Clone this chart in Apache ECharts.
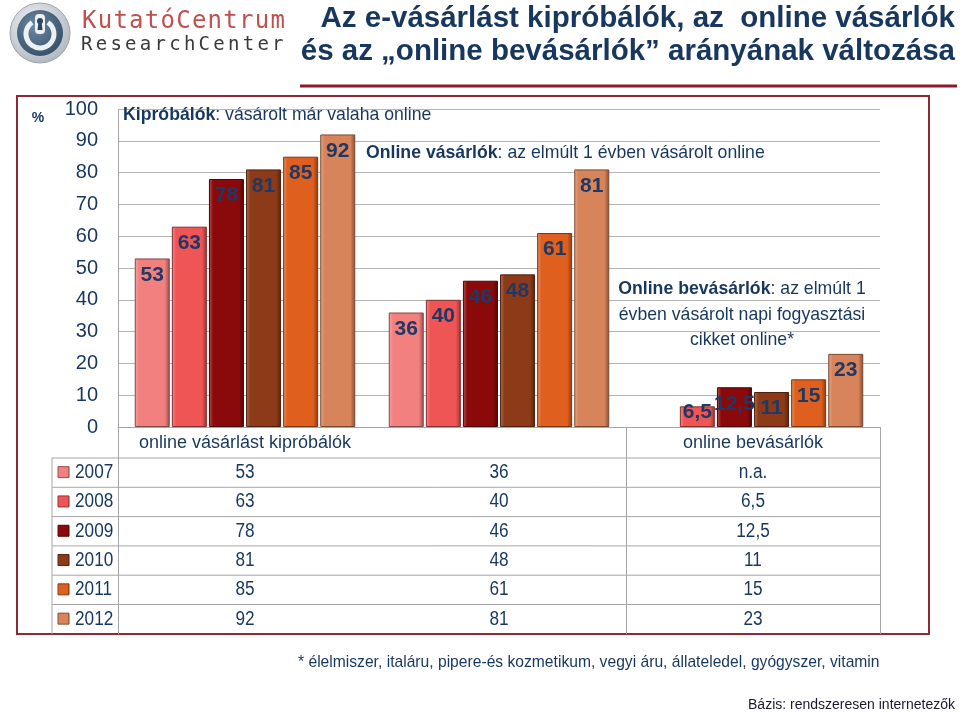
<!DOCTYPE html>
<html>
<head>
<meta charset="utf-8">
<script src="https://cdn.jsdelivr.net/npm/echarts@6/dist/echarts.min.js"></script>
<style>
  html, body { margin: 0; padding: 0; background: #fff; }
  #chart { width: 960px; height: 716px; }
</style>
</head>
<body>
<div id="chart"></div>
<script>
// adatok
const categories = ['online vásárlást kipróbálók', 'online vásárlók', 'online bevásárlók']
const years = ['2007', '2008', '2009', '2010', '2011', '2012']
const kiprobalok = [53, 63, 78, 81, 85, 92]
const vasarlok = [36, 40, 46, 48, 61, 81]
const bevasarlok = [null, 6.5, 12.5, 11, 15, 23]
const yTicks = [0, 100, 10] // min, max, interval

const colors = ['#F2807F', '#F05555', '#8A0A0C', '#8C3A18', '#DF601E', '#D8845A']
const NAVY = '#17375E'
const FONT = "'Liberation Sans', Arial, sans-serif"
const LINE = '#A6A6A6'

const fmt = v => (v == null ? 'n.a.' : String(v).replace('.', ','))

// szín világosítás / sötétítés
const shade = (hex, amt) => {
  const n = parseInt(hex.slice(1), 16)
  let rgb = [(n >> 16) & 255, (n >> 8) & 255, n & 255]
  rgb = rgb.map(c => Math.round(amt > 0 ? c + (255 - c) * amt : c * (1 + amt)))
  return 'rgb(' + rgb.join(',') + ')'
}
const barFill = c => new echarts.graphic.LinearGradient(0, 0, 1, 0, [
  { offset: 0, color: shade(c, 0.3) },
  { offset: 0.12, color: c },
  { offset: 0.86, color: c },
  { offset: 1, color: shade(c, -0.4) }
])

const valuesByCat = [kiprobalok, vasarlok, bevasarlok]

const myChart = echarts.init(document.getElementById('chart'))

const option = {
  animation: false,
  textStyle: { fontFamily: FONT },
  grid: { left: 118, top: 109, width: 762, height: 318 },
  xAxis: {
    type: 'category',
    data: categories,
    axisLine: { lineStyle: { color: LINE } },
    axisTick: { show: true, length: 207, lineStyle: { color: LINE } },
    axisLabel: { margin: 7, fontSize: 18, color: NAVY, fontFamily: FONT }
  },
  yAxis: {
    type: 'value',
    min: yTicks[0], max: yTicks[1], interval: yTicks[2],
    axisLine: { show: true, lineStyle: { color: LINE } },
    axisTick: { show: false },
    axisLabel: { margin: 20, fontSize: 20, color: NAVY, fontFamily: FONT },
    splitLine: { lineStyle: { color: '#B4B4B4' } }
  },
  series: years.map((y, i) => ({
    name: y,
    type: 'bar',
    barWidth: 35,
    barGap: '6%',
    data: categories.map((c, j) => {
      const v = valuesByCat[j][i]
      if (v == null) return null
      return v < 10 ? { value: v, label: { position: 'insideBottom', distance: 4 } } : v
    }),
    itemStyle: { color: barFill(colors[i]), borderColor: shade(colors[i], -0.45), borderWidth: 1 },
    label: {
      show: true, position: 'insideTop', distance: 6,
      formatter: p => fmt(p.value),
      color: '#1F3864', fontWeight: 'bold', fontSize: 21, fontFamily: FONT
    }
  }))
}

myChart.setOption(option)

// táblázat, feliratok, logó
const rowTop = 458, rowH = 29.3, tableBottom = 634
const g = []

// keskenyített szöveg (Arial Narrow helyett)
const txt = (x, y, text, style, sx) => ({
  type: 'text', x, y, scaleX: sx || 1,
  style: Object.assign({ text, fontFamily: FONT, fill: NAVY, textVerticalAlign: 'middle' }, style)
})

// keret és fejléc vonal
g.push({ type: 'rect', shape: { x: 17, y: 96, width: 912, height: 538 }, style: { fill: null, stroke: '#8E2A35', lineWidth: 2 } })
g.push({ type: 'line', shape: { x1: 300, y1: 86, x2: 957, y2: 86 }, style: { stroke: '#8B1A2A', lineWidth: 3 } })

// táblázat vonalai
for (let r = 0; r < years.length; r++) {
  const y = rowTop + r * rowH
  g.push({ type: 'line', shape: { x1: 52, y1: y, x2: 880, y2: y }, style: { stroke: LINE, lineWidth: 1 } })
}
g.push({ type: 'line', shape: { x1: 52, y1: rowTop, x2: 52, y2: tableBottom }, style: { stroke: LINE, lineWidth: 1 } })

// táblázat szövegek
years.forEach((y, r) => {
  const cy = rowTop + r * rowH + rowH / 2
  g.push({
    type: 'rect', shape: { x: 58, y: cy - 6, width: 11, height: 11 },
    style: { fill: barFill(colors[r]), stroke: shade(colors[r], -0.4), lineWidth: 1 }
  })
  g.push(txt(75, cy, y, { fontSize: 20 }, 0.86))
  categories.forEach((c, j) => {
    const cx = myChart.convertToPixel({ xAxisIndex: 0 }, c)
    g.push(txt(cx, cy, fmt(valuesByCat[j][r]), { fontSize: 20, textAlign: 'center' }, 0.86))
  })
})

// magyarázó szövegek
const rich = { b: { fontWeight: 'bold', fontSize: 19, fontFamily: FONT, fill: NAVY } }
g.push(txt(123, 115, '{b|Kipróbálók}: vásárolt már valaha online', { rich, fontSize: 19 }, 0.93))
g.push(txt(366, 153, '{b|Online vásárlók}: az elmúlt 1 évben vásárolt online', { rich, fontSize: 19 }, 0.93))
;['{b|Online bevásárlók}: az elmúlt 1', 'évben vásárolt napi fogyasztási', 'cikket online*'].forEach((t, k) => {
  g.push(txt(742, 289 + k * 25.5, t, { rich, fontSize: 19, textAlign: 'center' }, 0.93))
})
g.push(txt(38, 118, '%', { fontSize: 14, fontWeight: 'bold', textAlign: 'center' }))

// cím
g.push(txt(955, 19, 'Az e-vásárlást kipróbálók, az  online vásárlók', { fontSize: 29.5, fontWeight: 'bold', textAlign: 'right' }))
g.push(txt(955, 52, 'és az \u201eonline bevásárlók\u201d arányának változása', { fontSize: 29.5, fontWeight: 'bold', textAlign: 'right' }))

// lábjegyzet
g.push(txt(298, 662, '* élelmiszer, italáru, pipere-és kozmetikum, vegyi áru, állateledel, gyógyszer, vitamin', { fontSize: 17 }, 0.92))
g.push(txt(955, 705, 'Bázis: rendszeresen internetezők', { fontSize: 14, fill: '#1A1A2E', textAlign: 'right' }))

// logó
g.push({ type: 'circle', shape: { cx: 40, cy: 33, r: 30 }, style: { fill: new echarts.graphic.RadialGradient(0.4, 0.35, 0.7, [{ offset: 0, color: '#F2F4F6' }, { offset: 1, color: '#AEB6BE' }]), stroke: '#9AA4AE', lineWidth: 1 } })
g.push({ type: 'circle', shape: { cx: 40, cy: 33, r: 23 }, style: { fill: new echarts.graphic.RadialGradient(0.4, 0.35, 0.8, [{ offset: 0, color: '#6E8BA4' }, { offset: 1, color: '#2C465E' }]) } })
g.push({ type: 'arc', shape: { cx: 40, cy: 34, r: 14, startAngle: -Math.PI / 2 + 0.6, endAngle: -Math.PI / 2 - 0.6 + Math.PI * 2 }, style: { stroke: '#EEF1F4', lineWidth: 5, fill: null } })
g.push({ type: 'rect', shape: { x: 35, y: 14, width: 10, height: 20, r: 4 }, style: { fill: '#EEF1F4' } })
g.push({ type: 'circle', shape: { cx: 40, cy: 21, r: 3 }, style: { fill: '#2C465E' } })
g.push({ type: 'polygon', shape: { points: [[38.5, 22], [41.5, 22], [42.5, 30], [37.5, 30]] }, style: { fill: '#2C465E' } })
'KutatóCentrum'.split('').forEach((ch, k) => {
  g.push({ type: 'text', x: 82 + k * 15.7, y: 22, style: { text: ch, fontSize: 24, fontFamily: 'DejaVu Sans Mono', fill: '#C0504D', textVerticalAlign: 'middle' } })
})
'ResearchCenter'.split('').forEach((ch, k) => {
  g.push({ type: 'text', x: 81 + k * 14.7, y: 45, style: { text: ch, fontSize: 19, fontFamily: 'DejaVu Sans Mono', fill: '#3A3A3A', textVerticalAlign: 'middle' } })
})

myChart.setOption({ graphic: g })
</script>
</body>
</html>
